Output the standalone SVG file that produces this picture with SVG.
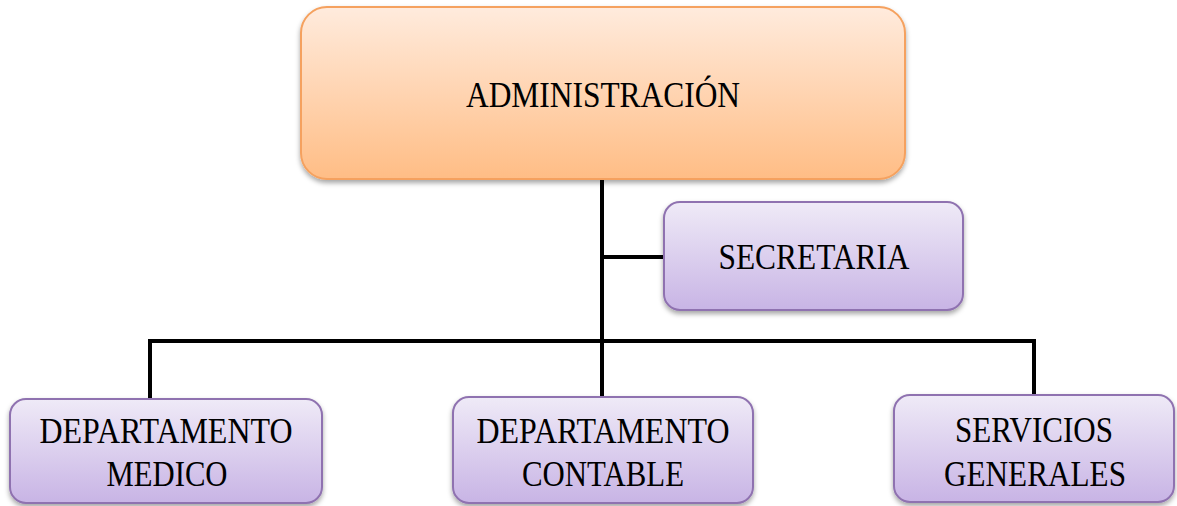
<svg xmlns="http://www.w3.org/2000/svg" width="1177" height="506" viewBox="0 0 1177 506">
<defs>
<linearGradient id="gOrange" x1="0" y1="0" x2="0" y2="1">
<stop offset="0" stop-color="#FFEBDD"/>
<stop offset="1" stop-color="#FFBD85"/>
</linearGradient>
<linearGradient id="gPurple" x1="0" y1="0" x2="0" y2="1">
<stop offset="0" stop-color="#EFEAF7"/>
<stop offset="1" stop-color="#C8B4E5"/>
</linearGradient>
<filter id="sh" x="-10%" y="-10%" width="120%" height="130%">
<feDropShadow dx="0" dy="3" stdDeviation="2.5" flood-color="#000" flood-opacity="0.35"/>
</filter>
</defs>
<style>
.org{fill:url(#gOrange);stroke:#F5A15E;stroke-width:2;filter:url(#sh)}
.pur{fill:url(#gPurple);stroke:#8F72B0;stroke-width:2;filter:url(#sh)}
.lbl{font-family:"Liberation Serif","DejaVu Serif",serif;font-size:36px;fill:#000;text-anchor:middle}
.con{stroke:#000;stroke-width:4;fill:none}
</style>
<g id="connectors">
<line class="con" x1="602" y1="179" x2="602" y2="398"/>
<line class="con" x1="602" y1="257" x2="665" y2="257"/>
<polyline class="con" points="150,400 150,341 1034,341 1034,396"/>
</g>
<g id="administracion">
<rect class="org" x="301" y="7" width="604" height="172" rx="26"/>
<text class="lbl" x="603" y="107" textLength="274" lengthAdjust="spacingAndGlyphs">ADMINISTRACIÓN</text>
</g>
<g id="secretaria">
<rect class="pur" x="664" y="202" width="299" height="108" rx="16"/>
<text class="lbl" x="814" y="269" textLength="191" lengthAdjust="spacingAndGlyphs">SECRETARIA</text>
</g>
<g id="depto-medico">
<rect class="pur" x="10" y="399" width="312" height="104" rx="16"/>
<text class="lbl" x="166" y="443" textLength="253" lengthAdjust="spacingAndGlyphs">DEPARTAMENTO</text>
<text class="lbl" x="167" y="486" textLength="121" lengthAdjust="spacingAndGlyphs">MEDICO</text>
</g>
<g id="depto-contable">
<rect class="pur" x="453" y="397" width="300" height="106" rx="16"/>
<text class="lbl" x="603" y="443" textLength="253" lengthAdjust="spacingAndGlyphs">DEPARTAMENTO</text>
<text class="lbl" x="603" y="486" textLength="162" lengthAdjust="spacingAndGlyphs">CONTABLE</text>
</g>
<g id="servicios-generales">
<rect class="pur" x="894" y="395" width="280" height="107" rx="16"/>
<text class="lbl" x="1034" y="442" textLength="158" lengthAdjust="spacingAndGlyphs">SERVICIOS</text>
<text class="lbl" x="1035" y="486" textLength="182" lengthAdjust="spacingAndGlyphs">GENERALES</text>
</g>
</svg>
